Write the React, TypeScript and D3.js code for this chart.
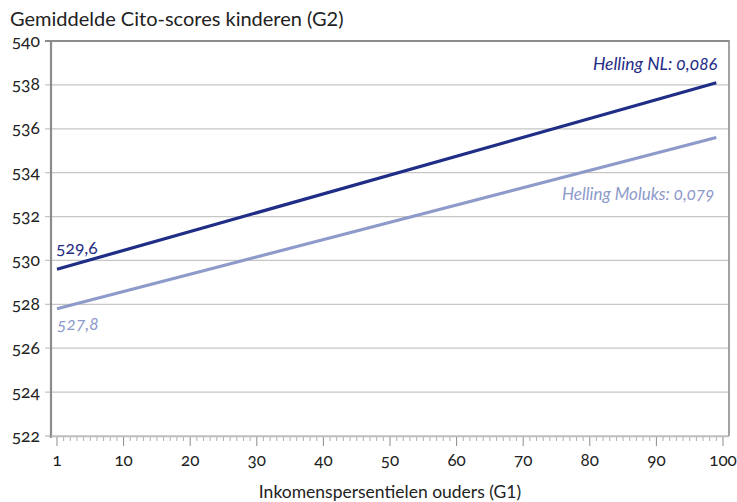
import React from "react";
import * as d3 from "d3";

// percentielen (G1) en gemiddelde Cito-scores (G2)
const percentielen = [1, 100];
const scoresNL = [529.6, 538.1];
const scoresMoluks = [527.8, 535.6];
const yTicks = [522, 524, 526, 528, 530, 532, 534, 536, 538, 540];
const xTickLabels = ["1", "10", "20", "30", "40", "50", "60", "70", "80", "90", "100"];
const xTickPos = [0, 10, 20, 30, 40, 50, 60, 70, 80, 90, 100];

const W = 737;
const H = 502;
const font = "Lato, 'Open Sans', sans-serif";
const donker = "#1f2d86";
const licht = "#8e9aca";
const onum = {fontVariantNumeric: "oldstyle-nums"};

const App = () => {
    const x = d3.scaleLinear().domain([0, 100]).range([57, 723]);
    const y = d3.scaleLinear().domain([522, 540]).range([436, 41]);

    // categorie-as: percentiel 1 staat op positie 0
    const line = d3.line<number>()
        .x((_, i) => x(percentielen[i] - 1))
        .y(d => y(d));

    const minor = d3.range(0, 101);

    return (
        <svg width={W} height={H} style={{position: "absolute", left: 0, top: 0, background: "#fff"}}
             fontFamily={font}>
            <text x={10} y={26} fontSize={20} fill="#222">Gemiddelde Cito-scores kinderen (G2)</text>

            {/* gridlijnen */}
            {yTicks.map(t => (
                <g key={t}>
                    <line x1={45} x2={729} y1={y(t)} y2={y(t)}
                          stroke={t === 540 ? "#8c8c8c" : "#c6c6c6"} strokeWidth={t === 540 ? 2 : 1.3}/>
                    <text x={40} y={y(t)} dy="0.32em" textAnchor="end" fontSize={17.5} fill="#222"
                          style={onum}>{t}</text>
                </g>
            ))}

            {/* kader */}
            <line x1={51} x2={51} y1={40} y2={438} stroke="#8c8c8c" strokeWidth={2.2}/>
            <line x1={729} x2={729} y1={40} y2={436} stroke="#8c8c8c" strokeWidth={1.6}/>
            <line x1={51} x2={729} y1={436.5} y2={436.5} stroke="#bdbdbd" strokeWidth={1.3}/>

            {/* x-as */}
            {minor.map(v => (
                <line key={v} x1={x(v)} x2={x(v)} y1={437} y2={v % 10 === 0 ? 446 : 441}
                      stroke={v % 10 === 0 ? "#8c8c8c" : "#b0b0b0"} strokeWidth={1}/>
            ))}
            {xTickPos.map((p, i) => (
                <text key={p} x={x(p)} y={466} textAnchor="middle" fontSize={17} fill="#222"
                      style={onum}>{xTickLabels[i]}</text>
            ))}
            <text x={390} y={498} textAnchor="middle" fontSize={17.5} fill="#222">Inkomenspersentielen ouders (G1)</text>

            {/* lijnen */}
            <path d={line(scoresMoluks) || ""} fill="none" stroke={licht} strokeWidth={3.2}/>
            <path d={line(scoresNL) || ""} fill="none" stroke={donker} strokeWidth={3.2}/>

            {/* labels */}
            <text x={56} y={y(scoresNL[0]) - 15} fontSize={17.5} fill={donker} style={onum}>529,6</text>
            <text x={57} y={y(scoresMoluks[0]) + 21} fontSize={17.5} fill={licht} fontStyle="italic"
                  style={onum}>527,8</text>
            <text x={x(99) + 1} y={y(scoresNL[1]) - 13} textAnchor="end" fontSize={17.5} fill={donker}
                  fontStyle="italic" style={onum}>Helling NL: 0,086</text>
            <text x={x(99) - 2} y={y(532.75)} textAnchor="end" fontSize={17} fill={licht}
                  fontStyle="italic" style={onum}>Helling Moluks: 0,079</text>
        </svg>
    );
};

export default App;
